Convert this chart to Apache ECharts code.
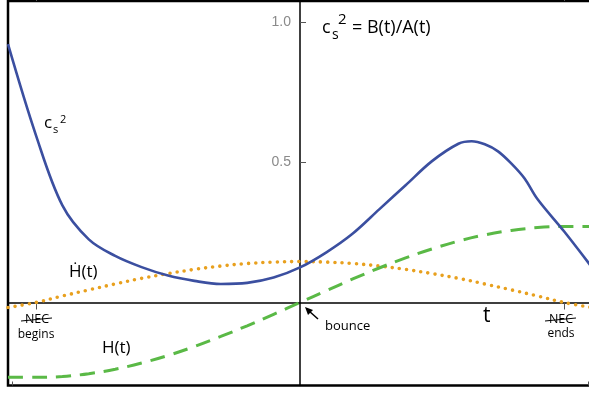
<!DOCTYPE html>
<html>
<head>
<meta charset="utf-8">
<script src="https://cdn.jsdelivr.net/npm/echarts@6/dist/echarts.min.js"></script>
<style>html,body{margin:0;padding:0;background:#fff}#c{width:589px;height:393px}</style>
</head>
<body>
<div id="c"></div>
<script>
// ---- data (t scaled so NEC begins at -1, ends at +1) ----
var csT = [-1.106,-1.0,-0.9,-0.8,-0.7,-0.6,-0.5,-0.4,-0.3,-0.2,-0.1,0,0.1,0.2,0.3,0.4,0.5,0.6,0.65,0.7,0.75,0.8,0.85,0.9,1.0,1.106];
var csV = [0.921,0.596,0.346,0.225,0.166,0.126,0.096,0.077,0.066,0.070,0.089,0.125,0.179,0.246,0.332,0.418,0.504,0.566,0.575,0.564,0.539,0.496,0.443,0.368,0.254,0.125];

var hT = [-1.106,-1.0,-0.9,-0.8,-0.7,-0.6,-0.5,-0.4,-0.3,-0.2,-0.1,0,0.1,0.2,0.3,0.4,0.5,0.6,0.7,0.8,0.9,1.0,1.106];
var hdotV = [-0.018,0,0.023,0.045,0.066,0.086,0.103,0.118,0.130,0.139,0.144,0.146,0.144,0.139,0.130,0.118,0.103,0.086,0.066,0.045,0.023,0,-0.018];
var hV = [-0.267,-0.267,-0.264,-0.254,-0.238,-0.216,-0.189,-0.157,-0.121,-0.083,-0.042,0,0.042,0.084,0.123,0.159,0.191,0.219,0.241,0.257,0.267,0.271,0.271];

var xMajorTicks = [-1, 1];
var xMinorTicks = [-1.09, 1.09];
var yTicks = [0.5, 1.0];

function pairs(ts, vs){ return ts.map(function(t,i){ return [t, vs[i]]; }); }

var chart = echarts.init(document.getElementById('c'), null, {renderer:'canvas'});
var F = '"Open Sans", "Noto Sans", sans-serif';
var baseX = {
  type:'value', min:-1.106, max:1.106, splitLine:{show:false},
  axisLabel:{show:false},
  axisLine:{onZero:true, lineStyle:{color:'#000', width:1.5}}
};
function xa(extra){ var o = JSON.parse(JSON.stringify(baseX)); for (var k in extra) o[k]=extra[k]; return o; }

chart.setOption({
  animation:false,
  grid:[
    {left:8, right:-3, top:1, bottom:7.5, show:true, borderColor:'#000', borderWidth:2.5, containLabel:false, outerBoundsMode:'none'},
    {left:300, right:-3, top:1, bottom:7.5, show:false, containLabel:false, outerBoundsMode:'none'}
  ],
  xAxis:[
    xa({position:'bottom', axisTick:{show:true, customValues:xMajorTicks, length:7, lineStyle:{color:'#555', width:1}}}),
    xa({position:'top', axisTick:{show:true, customValues:xMajorTicks, length:7, lineStyle:{color:'#555', width:1}}}),
    xa({position:'bottom', axisLine:{show:false, onZero:true}, axisTick:{show:true, inside:true, customValues:xMinorTicks, length:4, lineStyle:{color:'#555', width:1}}}),
    {gridIndex:1, type:'value', min:0, max:1.106, show:false}
  ],
  yAxis:[
    {
      type:'value', min:-0.296, max:1.075, splitLine:{show:false},
      axisLine:{onZero:true, lineStyle:{color:'#000', width:1.5}},
      axisTick:{show:false},
      axisLabel:{show:false}
    },
    {
      gridIndex:1, type:'value', min:-0.296, max:1.075, position:'left', splitLine:{show:false},
      axisLine:{show:false},
      axisTick:{show:true, inside:true, customValues:yTicks, length:6, lineStyle:{color:'#555', width:1}},
      axisLabel:{customValues:yTicks, formatter:function(v){return v.toFixed(1);}, color:'#8a8a8a', fontSize:14, fontFamily:'"Liberation Sans", Arial, sans-serif', margin:9}
    }
  ],
  series:[
    {type:'line', name:'cs2', data:pairs(csT,csV), showSymbol:false, smooth:0.35, lineStyle:{color:'#3b4fa0', width:2.6}, z:3},
    {type:'line', name:'Hdot', data:pairs(hT,hdotV), showSymbol:false, smooth:0.35, lineStyle:{color:'#e8a01e', width:3.6, type:[0,7.2], cap:'round'}, z:2},
    {type:'line', name:'H', data:pairs(hT,hV), showSymbol:false, smooth:0.35, lineStyle:{color:'#5ab946', width:3, type:[15,9]}, z:2}
  ],
  graphic:[
    {type:'text', left:322, top:19, style:{text:'c', font:'18px '+F, fill:'#000'}},
    {type:'text', left:332, top:28, style:{text:'s', font:'14px '+F, fill:'#000'}},
    {type:'text', left:338, top:12, style:{text:'2', font:'15px '+F, fill:'#000'}},
    {type:'text', left:352, top:19, style:{text:'= B(t)/A(t)', font:'18px '+F, fill:'#000'}},
    {type:'text', left:44, top:115, style:{text:'c', font:'17px '+F, fill:'#000'}},
    {type:'text', left:53, top:124, style:{text:'s', font:'11px '+F, fill:'#000'}},
    {type:'text', left:60, top:114, style:{text:'2', font:'11px '+F, fill:'#000'}},
    {type:'text', left:69, top:264, style:{text:'\u1E22(t)', font:'17px '+F, fill:'#000'}},
    {type:'text', left:102, top:340, style:{text:'H(t)', font:'17px '+F, fill:'#000'}},
    {type:'text', left:483, top:306, style:{text:'t', font:'21px '+F, fill:'#000'}},
    {type:'text', x:37, y:319, style:{text:'NEC', font:'12.5px '+F, fill:'#000', align:'center', verticalAlign:'middle'}},
    {type:'line', shape:{x1:21, y1:321, x2:52, y2:318}, style:{stroke:'#000', lineWidth:1}},
    {type:'text', x:36, y:335, style:{text:'begins', font:'12px '+F, fill:'#000', align:'center', verticalAlign:'middle'}},
    {type:'text', x:561, y:319, style:{text:'NEC', font:'12.5px '+F, fill:'#000', align:'center', verticalAlign:'middle'}},
    {type:'line', shape:{x1:545, y1:321, x2:576, y2:318}, style:{stroke:'#000', lineWidth:1}},
    {type:'text', x:561, y:334, style:{text:'ends', font:'12px '+F, fill:'#000', align:'center', verticalAlign:'middle'}},
    {type:'text', x:325, y:326, style:{text:'bounce', font:'13px '+F, fill:'#000', align:'left', verticalAlign:'middle'}},
    {type:'line', shape:{x1:318, y1:319, x2:309, y2:311}, style:{stroke:'#000', lineWidth:1.5}},
    {type:'polygon', shape:{points:[[305,307],[313,310],[308,315]]}, style:{fill:'#000'}}
  ]
});
</script>
</body>
</html>
